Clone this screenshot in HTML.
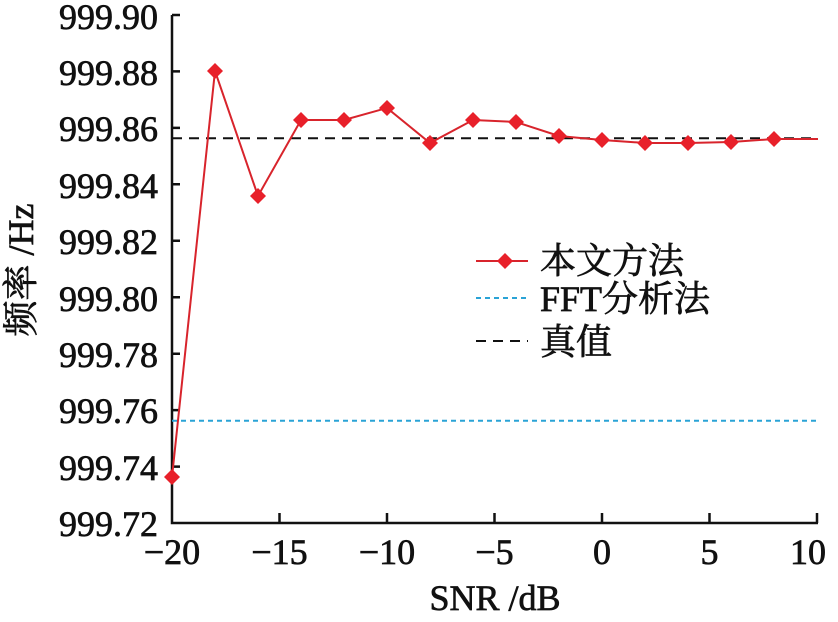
<!DOCTYPE html><html><head><style>body{margin:0;background:#fff}svg text{font-family:"Liberation Serif","Noto Serif CJK SC",serif}</style></head><body>
<svg width="838" height="617" xmlns="http://www.w3.org/2000/svg" font-size="36" fill="#111">
<g stroke="#111" stroke-width="2.5" fill="none">
<path d="M172 15V523H818"/>
<path d="M172 15h8M172 71.4h8M172 127.9h8M172 184.3h8M172 240.8h8M172 297.2h8M172 353.7h8M172 410.1h8M172 466.6h8"/>
<path d="M279.5 523v-10M387 523v-10M494.5 523v-10M602 523v-10M709.5 523v-10M817 523v-10"/>
</g>
<g stroke="#111" stroke-width="0.7">
<g text-anchor="end">
<text x="158" y="29">999.90</text><text x="158" y="85">999.88</text><text x="158" y="141">999.86</text><text x="158" y="198">999.84</text><text x="158" y="254">999.82</text><text x="158" y="311">999.80</text><text x="158" y="367">999.78</text><text x="158" y="423">999.76</text><text x="158" y="480">999.74</text><text x="158" y="536">999.72</text>
</g>
<g text-anchor="middle">
<text x="172" y="564">−20</text><text x="279.5" y="564">−15</text><text x="387" y="564">−10</text><text x="494.5" y="564">−5</text><text x="602" y="564">0</text><text x="709.5" y="564">5</text><text x="808" y="564">10</text>
<text x="495" y="610">SNR /dB</text>
<text transform="translate(33,270) rotate(-90)">频率 /Hz</text>
</g>
<text x="540" y="273">本文方法</text>
<text x="540" y="311">FFT分析法</text>
<text x="540" y="354">真值</text>
</g>
<path d="M172 138.3H818" stroke="#111" stroke-width="2" stroke-dasharray="10,7"/>
<path d="M172 420.7H818" stroke="#2aa3d6" stroke-width="2" stroke-dasharray="5,4"/>
<polyline fill="none" stroke="#d8242c" stroke-width="2" points="172,477 215,71 258,196 301,120 344,120 387,108 430,143 473,120 516,122 559,136 602,140 645,143 688,143 731,142 774,139 818,139"/>
<g fill="#e8202a">
<path d="M0 -8L8 0L0 8L-8 0Z" transform="translate(172,477)"/>
<path d="M0 -8L8 0L0 8L-8 0Z" transform="translate(215,71)"/>
<path d="M0 -8L8 0L0 8L-8 0Z" transform="translate(258,196)"/>
<path d="M0 -8L8 0L0 8L-8 0Z" transform="translate(301,120)"/>
<path d="M0 -8L8 0L0 8L-8 0Z" transform="translate(344,120)"/>
<path d="M0 -8L8 0L0 8L-8 0Z" transform="translate(387,108)"/>
<path d="M0 -8L8 0L0 8L-8 0Z" transform="translate(430,143)"/>
<path d="M0 -8L8 0L0 8L-8 0Z" transform="translate(473,120)"/>
<path d="M0 -8L8 0L0 8L-8 0Z" transform="translate(516,122)"/>
<path d="M0 -8L8 0L0 8L-8 0Z" transform="translate(559,136)"/>
<path d="M0 -8L8 0L0 8L-8 0Z" transform="translate(602,140)"/>
<path d="M0 -8L8 0L0 8L-8 0Z" transform="translate(645,143)"/>
<path d="M0 -8L8 0L0 8L-8 0Z" transform="translate(688,143)"/>
<path d="M0 -8L8 0L0 8L-8 0Z" transform="translate(731,142)"/>
<path d="M0 -8L8 0L0 8L-8 0Z" transform="translate(774,139)"/>
</g>
<path d="M476 261H528" stroke="#d8242c" stroke-width="2"/>
<path d="M505 253L513 261L505 269L497 261Z" fill="#e8202a"/>
<path d="M476 298H528" stroke="#2aa3d6" stroke-width="2" stroke-dasharray="5,4"/>
<path d="M476 341H528" stroke="#111" stroke-width="2" stroke-dasharray="10,7"/>
</svg>
</body></html>
